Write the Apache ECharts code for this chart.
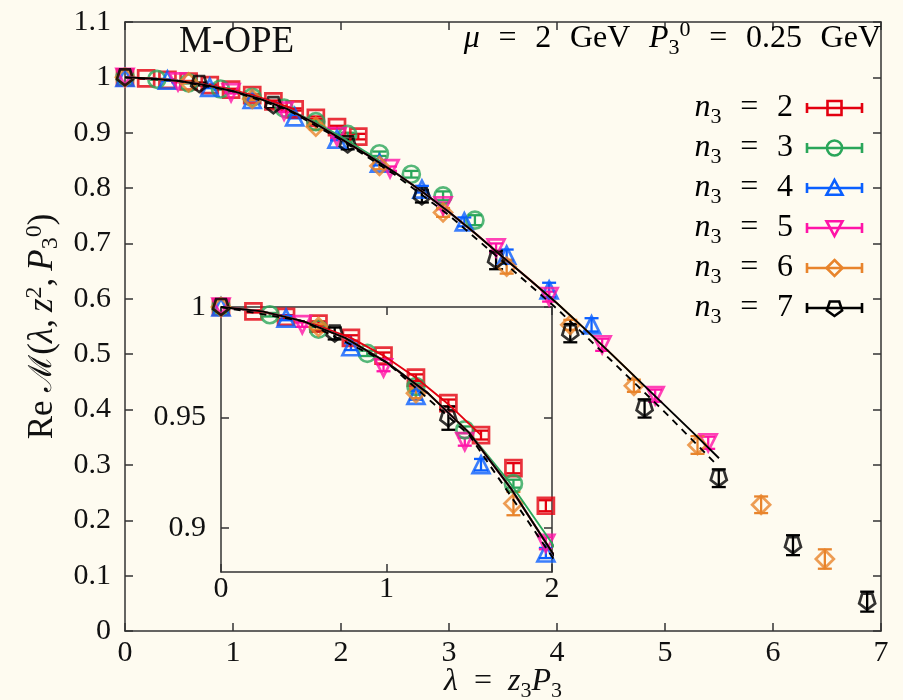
<!DOCTYPE html>
<html>
<head>
<meta charset="utf-8">
<script src="https://cdn.jsdelivr.net/npm/echarts@6/dist/echarts.min.js"></script>
<style>
  html, body { margin: 0; padding: 0; background: #fefbf0; }
  #chart { width: 903px; height: 700px; }
</style>
</head>
<body>
<div id="chart"></div>
<script>
// lambda = z3 * P3 values per momentum n3, real part of the matrix element and errors
var lam2 = [0, 0.196, 0.393, 0.589, 0.785, 0.982, 1.178, 1.374, 1.571, 1.767, 1.963, 2.160];
var re2 = [1.0, 0.998, 0.9955, 0.9925, 0.986, 0.978, 0.968, 0.9565, 0.942, 0.927, 0.910, 0.893];
var err2 = [0, 0.0005, 0.0008, 0.001, 0.0012, 0.0014, 0.0015, 0.0016, 0.002, 0.0023, 0.0025, 0.005];

var lam3 = [0, 0.295, 0.589, 0.884, 1.178, 1.473, 1.767, 2.062, 2.356, 2.651, 2.945, 3.240];
var re3 = [1.0, 0.9965, 0.990, 0.979, 0.964, 0.9444, 0.920, 0.897, 0.862, 0.825, 0.786, 0.742];
var err3 = [0, 0.0008, 0.001, 0.0012, 0.0014, 0.0015, 0.0018, 0.003, 0.004, 0.006, 0.008, 0.009];

var lam4 = [0, 0.393, 0.785, 1.178, 1.571, 1.963, 2.356, 2.749, 3.142, 3.534, 3.927, 4.320];
var re4 = [1.0, 0.995, 0.982, 0.960, 0.9286, 0.8886, 0.845, 0.798, 0.739, 0.679, 0.616, 0.553];
var err4 = [0, 0.001, 0.0015, 0.002, 0.0026, 0.0023, 0.004, 0.006, 0.008, 0.01, 0.013, 0.012];

var lam5 = [0, 0.491, 0.982, 1.473, 1.963, 2.454, 2.945, 3.436, 3.927, 4.418, 4.909, 5.400];
var re5 = [1.0, 0.992, 0.9724, 0.939, 0.893, 0.835, 0.768, 0.692, 0.604, 0.517, 0.425, 0.340];
var err5 = [0, 0.001, 0.0015, 0.0018, 0.0027, 0.004, 0.006, 0.008, 0.009, 0.011, 0.011, 0.011];

var lam6 = [0, 0.589, 1.178, 1.767, 2.356, 2.945, 3.534, 4.123, 4.712, 5.301, 5.890, 6.480];
var re6 = [1.0, 0.991, 0.961, 0.911, 0.840, 0.756, 0.658, 0.553, 0.443, 0.336, 0.228, 0.130];
var err6 = [0, 0.0012, 0.0023, 0.0053, 0.006, 0.008, 0.0125, 0.009, 0.011, 0.016, 0.015, 0.0175];

var lam7 = [0, 0.687, 1.374, 2.062, 2.749, 3.436, 4.123, 4.811, 5.498, 6.185, 6.872];
var re7 = [1.0, 0.988, 0.9497, 0.879, 0.785, 0.670, 0.538, 0.402, 0.276, 0.155, 0.053];
var err7 = [0, 0.0027, 0.0053, 0.009, 0.011, 0.0165, 0.0165, 0.0165, 0.016, 0.018, 0.018];

// fit curves
var fitLam2 = [0, 0.196, 0.393, 0.589, 0.785, 0.982, 1.178, 1.374, 1.571];
var fitRe2 = [1.0, 0.9985, 0.9955, 0.9915, 0.986, 0.978, 0.968, 0.956, 0.942];
var fitLam3 = [0, 0.25, 0.5, 0.75, 1.0, 1.25, 1.5, 1.75, 2.0, 2.25, 2.356];
var fitRe3 = [1.0, 0.998, 0.9935, 0.986, 0.975, 0.961, 0.943, 0.920, 0.893, 0.863, 0.849];
var fitLam4 = [0, 0.25, 0.5, 0.75, 1.0, 1.25, 1.5, 1.75, 2.0, 2.25, 2.5, 2.75, 3.0, 3.142];
var fitRe4 = [1.0, 0.998, 0.9935, 0.986, 0.975, 0.961, 0.943, 0.918, 0.889, 0.859, 0.828, 0.794, 0.757, 0.734];
var fitLam5 = [0, 0.25, 0.5, 0.75, 1.0, 1.25, 1.5, 1.75, 2.0, 2.25, 2.5, 2.75, 3.0, 3.25, 3.5, 3.75, 3.927];
var fitRe5 = [1.0, 0.998, 0.9935, 0.986, 0.975, 0.961, 0.943, 0.918, 0.889, 0.859, 0.828, 0.794, 0.757, 0.717, 0.675, 0.634, 0.604];
var fitLam6 = [0, 0.25, 0.5, 0.75, 1.0, 1.25, 1.5, 1.75, 2.0, 2.25, 2.5, 2.75, 3.0, 3.25, 3.5, 3.75, 4.0, 4.25, 4.5, 4.712];
var fitRe6 = [1.0, 0.998, 0.9935, 0.986, 0.975, 0.961, 0.943, 0.918, 0.889, 0.859, 0.828, 0.794, 0.757, 0.717, 0.675, 0.634, 0.592, 0.547, 0.501, 0.461];
var fitLam7 = [0, 0.25, 0.5, 0.75, 1.0, 1.25, 1.5, 1.75, 2.0, 2.25, 2.5, 2.75, 3.0, 3.25, 3.5, 3.75, 4.0, 4.25, 4.5, 4.75, 5.0, 5.25, 5.5];
var fitRe7 = [1.0, 0.998, 0.9935, 0.986, 0.975, 0.961, 0.943, 0.918, 0.889, 0.859, 0.828, 0.794, 0.757, 0.717, 0.675, 0.634, 0.592, 0.547, 0.501, 0.454, 0.407, 0.360, 0.312];
var dashLam = [0, 0.5, 1.0, 1.5, 2.0, 2.5, 3.0, 3.5, 4.0, 4.5, 5.0, 5.48];
var dashRe = [1.0, 0.9935, 0.975, 0.942, 0.887, 0.824, 0.751, 0.667, 0.582, 0.489, 0.395, 0.300];

var bg = '#fefbf0';
var ink = '#111111';
var frame = '#333333';
var font = 'Liberation Serif';
var pentagon = 'path://M0,1 L-0.951,0.309 L-0.588,-0.809 L0.588,-0.809 L0.951,0.309 Z';

var sets = [
  { n: '2', lam: lam2, re: re2, err: err2, fl: fitLam2, fr: fitRe2, color: '#e3000f', symbol: 'rect', rot: 0, size: 16, kind: 'square' },
  { n: '3', lam: lam3, re: re3, err: err3, fl: fitLam3, fr: fitRe3, color: '#2aa65a', symbol: 'circle', rot: 0, size: 17, kind: 'circle' },
  { n: '4', lam: lam4, re: re4, err: err4, fl: fitLam4, fr: fitRe4, color: '#0a5fff', symbol: 'triangle', rot: 0, size: 17, kind: 'up' },
  { n: '5', lam: lam5, re: re5, err: err5, fl: fitLam5, fr: fitRe5, color: '#ff14a8', symbol: 'triangle', rot: 180, size: 17, kind: 'down' },
  { n: '6', lam: lam6, re: re6, err: err6, fl: fitLam6, fr: fitRe6, color: '#e8842c', symbol: 'diamond', rot: 0, size: 18, kind: 'diamond' },
  { n: '7', lam: lam7, re: re7, err: err7, fl: fitLam7, fr: fitRe7, color: '#000000', symbol: pentagon, rot: 0, size: 16, kind: 'pentagon' }
];

function makeRich(big, small) {
  return {
    r: { fontFamily: font, fontSize: big, color: ink, lineHeight: 40 },
    i: { fontFamily: font, fontStyle: 'italic', fontSize: big, color: ink, lineHeight: 40 },
    m: { fontFamily: 'DejaVu Serif', fontSize: big - 3, color: ink, lineHeight: 40 },
    sb: { fontFamily: font, fontSize: small, color: ink, lineHeight: 22, verticalAlign: 'bottom' },
    sp: { fontFamily: font, fontSize: small, color: ink, lineHeight: 22, verticalAlign: 'top' }
  };
}
var mathRich = makeRich(32, 22);
var yRich = makeRich(35, 24);

function errorBar(params, api) {
  var e = api.value(2);
  if (!e) {
    return;
  }
  var x = api.value(0);
  var y = api.value(1);
  var hi = api.coord([x, y + e]);
  var lo = api.coord([x, y - e]);
  var w = 7;
  var st = { stroke: api.visual('color'), lineWidth: 2.3 };
  return {
    type: 'group',
    children: [
      { type: 'line', shape: { x1: hi[0], y1: hi[1], x2: lo[0], y2: lo[1] }, style: st },
      { type: 'line', shape: { x1: hi[0] - w, y1: hi[1], x2: hi[0] + w, y2: hi[1] }, style: st },
      { type: 'line', shape: { x1: lo[0] - w, y1: lo[1], x2: lo[0] + w, y2: lo[1] }, style: st }
    ]
  };
}

var series = [];
sets.forEach(function (s) {
  var pts = s.lam.map(function (l, k) { return [l, s.re[k], s.err[k]]; });
  [0, 2].forEach(function (ax) {
    series.push({
      type: 'custom',
      xAxisIndex: ax,
      yAxisIndex: ax,
      renderItem: errorBar,
      data: pts,
      encode: { x: 0, y: 1 },
      itemStyle: { color: s.color },
      clip: true,
      silent: true,
      z: 3
    });
    series.push({
      type: 'scatter',
      xAxisIndex: ax,
      yAxisIndex: ax,
      data: pts,
      symbol: s.symbol,
      symbolRotate: s.rot,
      symbolSize: s.size,
      itemStyle: { color: 'rgba(0,0,0,0)', borderColor: s.color, borderWidth: 2.7 },
      clip: true,
      silent: true,
      z: 3
    });
  });
});

function fitLine(lams, res, color, ax, dashed) {
  return {
    type: 'line',
    xAxisIndex: ax,
    yAxisIndex: ax,
    data: lams.map(function (l, k) { return [l, res[k]]; }),
    showSymbol: false,
    symbol: 'none',
    clip: true,
    silent: true,
    lineStyle: { color: color, width: 1.9, type: dashed ? [7, 6] : 'solid' },
    z: 4
  };
}

[0, 2].forEach(function (ax) {
  for (var i = 0; i < 5; i++) {
    series.push(fitLine(sets[i].fl, sets[i].fr, sets[i].color, ax, false));
  }
  series.push(fitLine(dashLam, dashRe, '#000000', ax, true));
  series.push(fitLine(fitLam7, fitRe7, '#000000', ax, false));
});

function numLabel(v) {
  return String(+v.toFixed(3));
}

var axLine = { show: true, onZero: false, lineStyle: { color: frame, width: 1.5 } };
var tickIn = { show: true, inside: true, length: 8, lineStyle: { color: frame, width: 1.5 } };
var lblStyle = { color: ink, fontFamily: font, fontSize: 30 };

var xAxes = [
  {
    type: 'value', gridIndex: 0, min: 0, max: 7, interval: 1, position: 'bottom',
    axisLine: axLine, axisTick: tickIn, splitLine: { show: false },
    axisLabel: Object.assign({ margin: 7, formatter: numLabel }, lblStyle),
    name: '{i|λ}{r|\u2002=\u2002}{i|z}{sb|3}{i|P}{sb|3}',
    nameLocation: 'middle', nameGap: 31, nameMoveOverlap: false,
    nameTextStyle: { rich: mathRich }
  },
  {
    type: 'value', gridIndex: 0, min: 0, max: 7, interval: 1, position: 'top',
    axisLine: axLine, axisTick: tickIn, splitLine: { show: false }, axisLabel: { show: false }
  },
  {
    type: 'value', gridIndex: 1, min: 0, max: 2, interval: 1, position: 'bottom',
    axisLine: axLine, axisTick: tickIn, splitLine: { show: false },
    axisLabel: Object.assign({ margin: 2, formatter: numLabel }, lblStyle)
  },
  {
    type: 'value', gridIndex: 1, min: 0, max: 2, interval: 1, position: 'top',
    axisLine: axLine, axisTick: tickIn, splitLine: { show: false }, axisLabel: { show: false }
  }
];

var yAxes = [
  {
    type: 'value', gridIndex: 0, min: 0, max: 1.1, interval: 0.1, position: 'left',
    axisLine: axLine, axisTick: tickIn, splitLine: { show: false },
    axisLabel: Object.assign({ margin: 14, formatter: numLabel }, lblStyle),
    name: '{r|Re }{m|ℳ}{r|(}{i|λ}{r|,\u2009}{i|z}{sp|2}{r|,\u2009}{i|P}{sb|3}{sp|0}{r|)}',
    nameLocation: 'middle', nameGap: 62, nameRotate: 90, nameMoveOverlap: false,
    nameTextStyle: { rich: yRich }
  },
  {
    type: 'value', gridIndex: 0, min: 0, max: 1.1, interval: 0.1, position: 'right',
    axisLine: axLine, axisTick: tickIn, splitLine: { show: false }, axisLabel: { show: false }
  },
  {
    type: 'value', gridIndex: 1, min: 0.88, max: 1.0, position: 'left',
    axisLine: axLine,
    axisTick: Object.assign({ customValues: [0.9, 0.95, 1.0] }, tickIn),
    splitLine: { show: false },
    axisLabel: Object.assign({ margin: 15, formatter: numLabel, customValues: [0.9, 0.95, 1.0] }, lblStyle)
  },
  {
    type: 'value', gridIndex: 1, min: 0.88, max: 1.0, position: 'right',
    axisLine: axLine,
    axisTick: Object.assign({ customValues: [0.9, 0.95, 1.0] }, tickIn),
    splitLine: { show: false }, axisLabel: { show: false }
  }
];

// legend drawn by hand: text, horizontal error-bar sample and the open marker
function legendMarker(kind, cx, cy, color) {
  var st = { fill: 'rgba(0,0,0,0)', stroke: color, lineWidth: 2.6 };
  var r = 8;
  if (kind === 'square') {
    return { type: 'rect', shape: { x: cx - 7, y: cy - 7, width: 14, height: 14 }, style: st };
  }
  if (kind === 'circle') {
    return { type: 'circle', shape: { cx: cx, cy: cy, r: 7.5 }, style: st };
  }
  var p;
  if (kind === 'up') {
    p = [[0, -1], [1, 0.85], [-1, 0.85]];
  } else if (kind === 'down') {
    p = [[0, 1], [1, -0.85], [-1, -0.85]];
  } else if (kind === 'diamond') {
    p = [[0, -1], [1, 0], [0, 1], [-1, 0]];
  } else {
    p = [[0, 1], [-0.951, 0.309], [-0.588, -0.809], [0.588, -0.809], [0.951, 0.309]];
  }
  return {
    type: 'polygon',
    shape: { points: p.map(function (q) { return [cx + q[0] * r, cy + q[1] * r]; }) },
    style: st
  };
}

var gap = '\u2002\u200a';
var graphics = [
  {
    type: 'text', left: 179, top: 24, z: 10,
    style: { text: 'M-OPE', fontFamily: font, fontSize: 37, fill: ink }
  },
  {
    type: 'text', right: 22, top: 19, z: 10,
    style: {
      text: '{i|μ}{r|' + gap + '=' + gap + '2' + gap + 'GeV' + gap + '}{i|P}{sb|3}{sp|0}{r|' + gap + '=' + gap + '0.25' + gap + 'GeV}',
      rich: mathRich
    }
  }
];

sets.forEach(function (s, i) {
  var cy = 108 + 40 * i;
  var st = { stroke: s.color, lineWidth: 2.6 };
  graphics.push({
    type: 'group', z: 10,
    children: [
      {
        type: 'text',
        style: {
          text: '{i|n}{sb|3}{r|' + gap + '=' + gap + s.n + '}',
          rich: mathRich, x: 793, y: cy, align: 'right', verticalAlign: 'middle'
        }
      },
      { type: 'line', shape: { x1: 807, y1: cy, x2: 862, y2: cy }, style: st },
      { type: 'line', shape: { x1: 807, y1: cy - 5, x2: 807, y2: cy + 5 }, style: st },
      { type: 'line', shape: { x1: 862, y1: cy - 5, x2: 862, y2: cy + 5 }, style: st },
      legendMarker(s.kind, 834.5, cy, s.color)
    ]
  });
});

var chart = echarts.init(document.getElementById('chart'));
chart.setOption({
  backgroundColor: bg,
  animation: false,
  grid: [
    { left: 125, top: 22, right: 22, bottom: 69, outerBoundsMode: 'none' },
    { left: 221, top: 307, right: 351, bottom: 128, outerBoundsMode: 'none', show: true, backgroundColor: bg, borderWidth: 0 }
  ],
  xAxis: xAxes,
  yAxis: yAxes,
  series: series,
  graphic: graphics
});
</script>
</body>
</html>
